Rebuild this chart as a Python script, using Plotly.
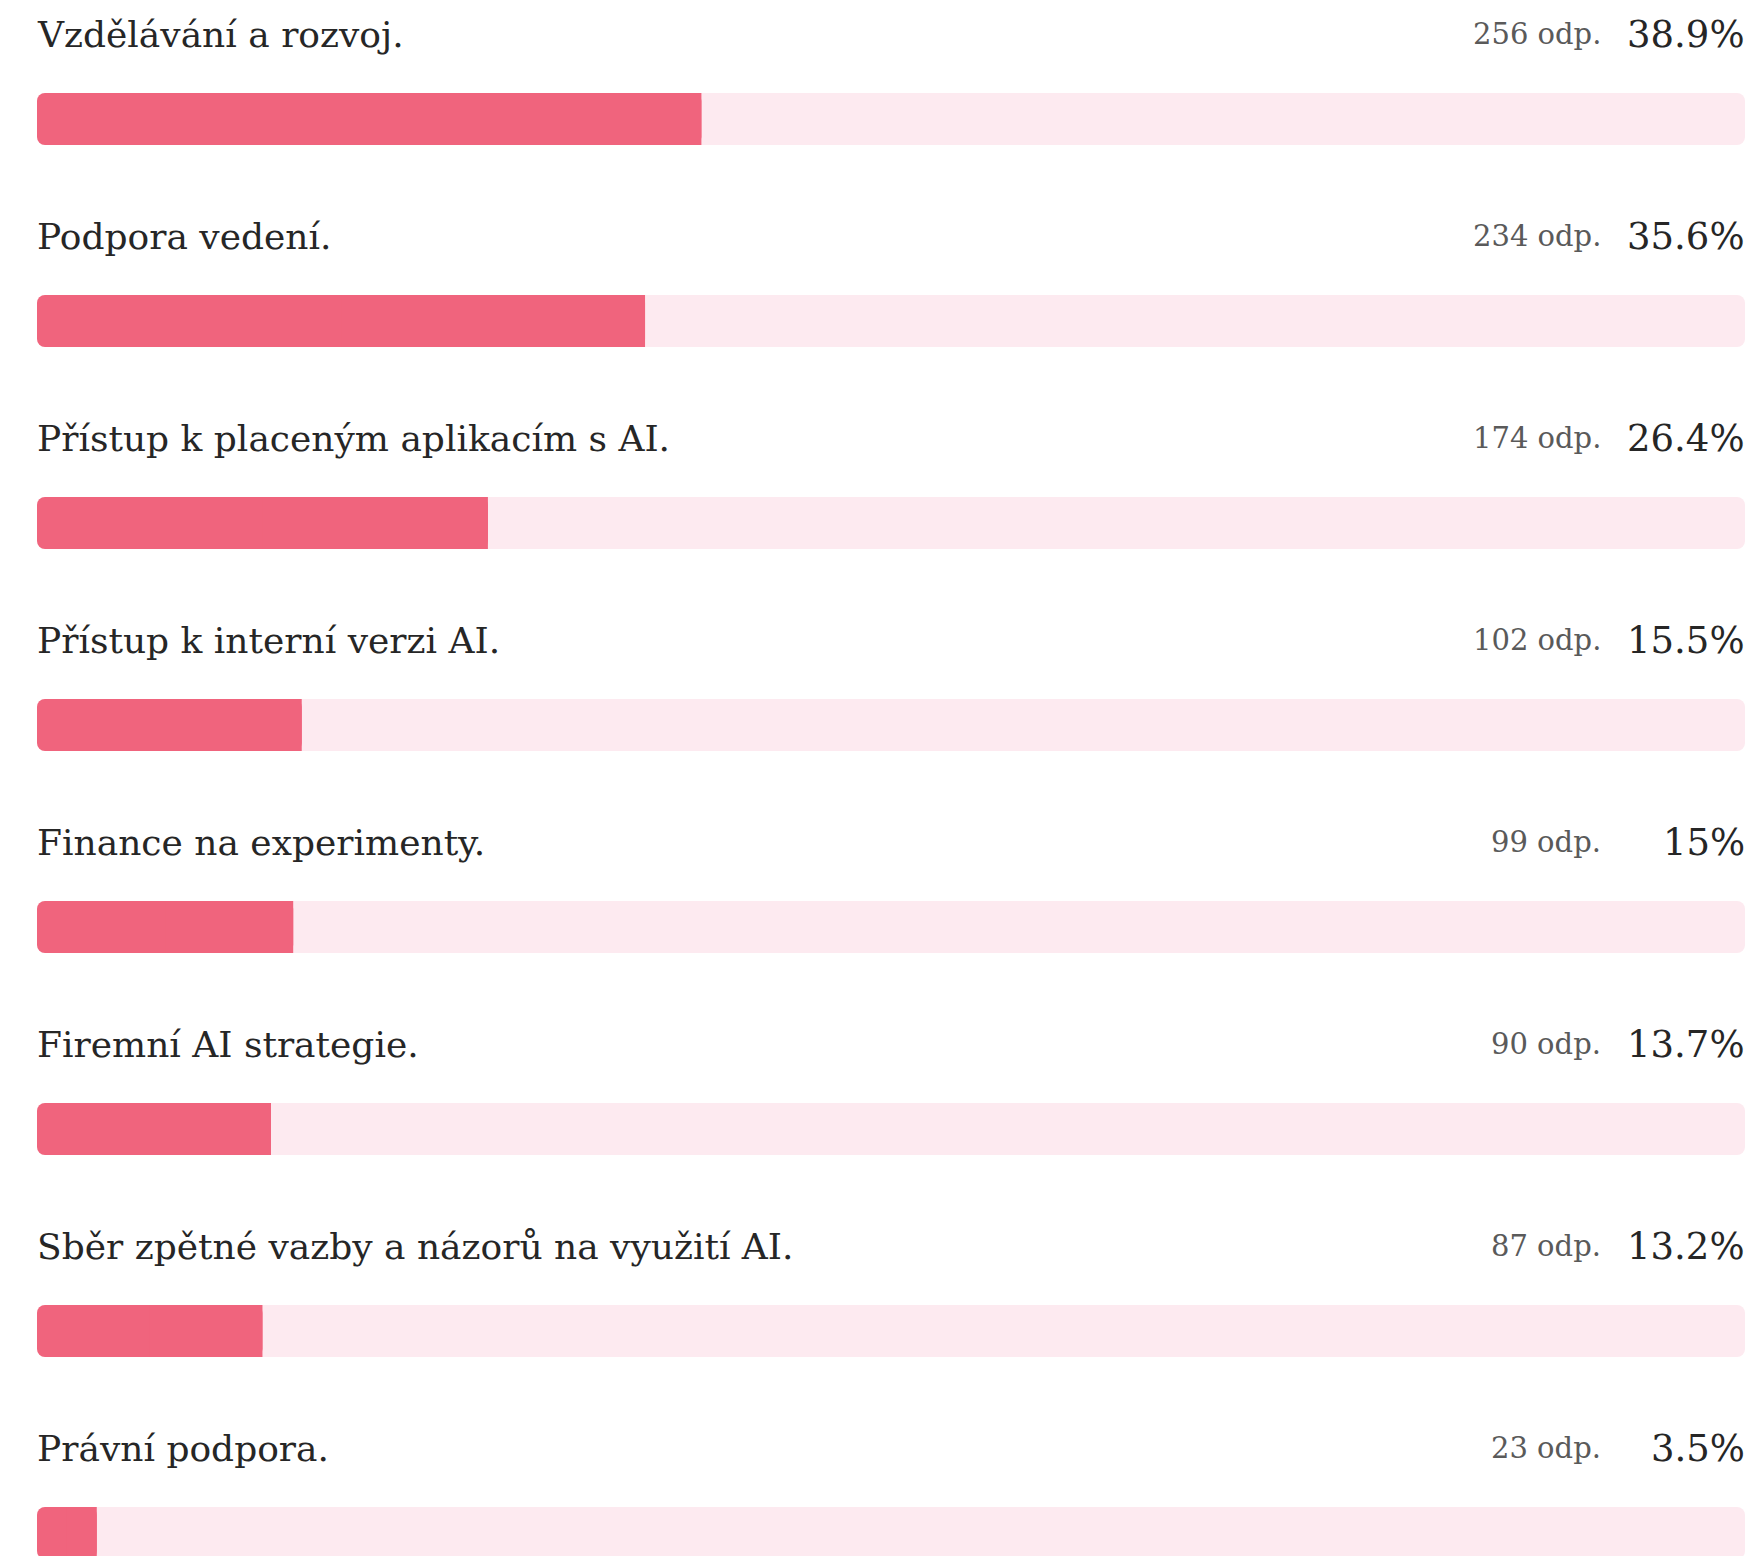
import plotly.graph_objects as go

categories = [
    "Vzdělávání a rozvoj.",
    "Podpora vedení.",
    "Přístup k placeným aplikacím s AI.",
    "Přístup k interní verzi AI.",
    "Finance na experimenty.",
    "Firemní AI strategie.",
    "Sběr zpětné vazby a názorů na využití AI.",
    "Právní podpora.",
]
responses = [256, 234, 174, 102, 99, 90, 87, 23]
percents = [38.9, 35.6, 26.4, 15.5, 15, 13.7, 13.2, 3.5]
pct_labels = ["38.9%", "35.6%", "26.4%", "15.5%", "15%", "13.7%", "13.2%", "3.5%"]

# page body has an 8px default margin
PAGE_OFF = 8
W, H = 1758 - PAGE_OFF, 1556 - PAGE_OFF
FILL = "#F0647D"
TRACK = "#FDEAF0"
FONT = "DejaVu Serif"

n = len(categories)
ys = list(range(n))
row_px = 202
first_center = 119 - PAGE_OFF
label_center = 34 - PAGE_OFF
bar_px = 52
bw = bar_px / row_px
R = 8

fig = go.Figure()
# background track (rounded at both ends)
fig.add_trace(go.Bar(
    x=[100] * n, base=[0] * n, y=ys, orientation="h", width=bw,
    marker=dict(color=TRACK, line=dict(width=0), cornerradius=R),
    hoverinfo="skip", showlegend=False,
))
# value fill (rounded)
fig.add_trace(go.Bar(
    x=percents, base=[0] * n, y=ys, orientation="h", width=bw,
    marker=dict(color=FILL, line=dict(width=0), cornerradius=R),
    hoverinfo="skip", showlegend=False,
))
# square off the right end of the fill
fig.add_trace(go.Bar(
    x=[p / 2 for p in percents], base=[p / 2 for p in percents], y=ys,
    orientation="h", width=bw,
    marker=dict(color=FILL, line=dict(width=0), cornerradius=0.01),
    hoverinfo="skip", showlegend=False,
))

label_off = (first_center - label_center) / row_px
annotations = []
for i, (cat, r, pl) in enumerate(zip(categories, responses, pct_labels)):
    annotations.append(dict(
        x=0, y=i - label_off, xref="x", yref="y", text=cat, showarrow=False,
        xanchor="left", yanchor="middle", xshift=-2,
        font=dict(family=FONT, size=36, color="#262626"),
    ))
    annotations.append(dict(
        x=100, y=i - label_off, xref="x", yref="y", text=pl, showarrow=False,
        xanchor="right", yanchor="middle", xshift=2,
        font=dict(family=FONT, size=37, color="#262626"),
    ))
    annotations.append(dict(
        x=100, y=i - label_off, xref="x", yref="y", text=f"{r} odp.", showarrow=False,
        xanchor="right", yanchor="middle", xshift=-142,
        font=dict(family=FONT, size=29, color="#5a5a5a"),
    ))

fig.update_layout(
    width=W, height=H,
    margin=dict(l=37 - PAGE_OFF, r=W - (1745 - PAGE_OFF), t=0, b=0),
    barmode="overlay",
    paper_bgcolor="white", plot_bgcolor="white",
    xaxis=dict(range=[0, 100], visible=False, fixedrange=True),
    yaxis=dict(range=[(H - first_center) / row_px, -first_center / row_px],
               visible=False, fixedrange=True),
    annotations=annotations,
    showlegend=False,
)

fig.write_html("out.html", config={"displayModeBar": False})
